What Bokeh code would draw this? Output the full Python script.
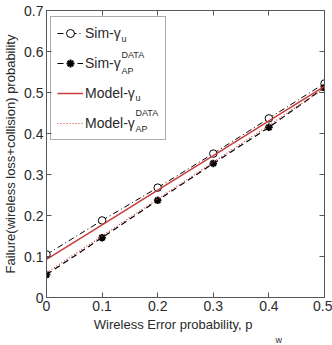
from bokeh.plotting import figure
from bokeh.models import Legend, LegendItem, Label, LinearAxis, FixedTicker, Range1d, Title
from bokeh.embed import file_html
from bokeh.resources import INLINE

pw = [0.0, 0.1, 0.2, 0.3, 0.4, 0.5]
sim_u = [0.105, 0.188, 0.268, 0.351, 0.437, 0.522]
sim_ap = [0.056, 0.146, 0.237, 0.327, 0.415, 0.512]
model_u = [0.093, 0.177, 0.262, 0.346, 0.431, 0.515]
model_ap = [0.060, 0.150, 0.240, 0.330, 0.420, 0.510]
xticks = [0, 0.1, 0.2, 0.3, 0.4, 0.5]
yticks = [0, 0.1, 0.2, 0.3, 0.4, 0.5, 0.6, 0.7]

FONT = "Liberation Sans"
TXT = "#2a2a2a"
RED = "#cc3b3b"
FRAME = "#555555"

p = figure(width=332, height=345, output_backend="svg", toolbar_location=None,
           x_range=Range1d(0, 0.5), y_range=Range1d(0, 0.7),
           min_border_left=43, min_border_right=8, min_border_top=10, min_border_bottom=48)
p.grid.visible = False
p.outline_line_color = FRAME
p.background_fill_color = "white"

for ax in (p.xaxis[0], p.yaxis[0]):
    ax.major_tick_in = 5
    ax.major_tick_out = 0
    ax.minor_tick_in = 0
    ax.minor_tick_out = 0
    ax.major_label_text_font = FONT
    ax.major_label_text_font_size = "14px"
    ax.major_label_text_color = TXT
    ax.axis_label_text_font = FONT
    ax.axis_label_text_font_size = "13px"
    ax.axis_label_text_font_style = "normal"
    ax.axis_label_text_color = TXT
    ax.axis_line_color = FRAME
    ax.major_tick_line_color = FRAME
    ax.major_label_standoff = 3

p.xaxis.ticker = FixedTicker(ticks=xticks)
p.yaxis.ticker = FixedTicker(ticks=yticks)
p.xaxis.major_label_overrides = {0: "0"}
p.yaxis.major_label_overrides = {0: "0"}
p.yaxis.axis_label = "Failure(wireless loss+collision) probability"
p.yaxis.axis_label_standoff = 3

for side, tk in (("right", yticks), ("above", xticks)):
    a = LinearAxis(ticker=FixedTicker(ticks=tk),
                   major_label_overrides={t: "" for t in tk},
                   major_tick_in=5, major_tick_out=0, minor_tick_in=0, minor_tick_out=0,
                   major_label_standoff=0, axis_line_color=FRAME,
                   major_tick_line_color=FRAME)
    p.add_layout(a, side)

# x-axis label and its subscript
p.add_layout(Title(text="Wireless Error probability, p", align="right", offset=72, standoff=2,
                   text_font=FONT, text_font_size="13px", text_font_style="normal",
                   text_color=TXT), "below")
p.add_layout(Title(text="w", align="left", offset=229, standoff=0,
                   text_font=FONT, text_font_size="9px", text_font_style="normal",
                   text_line_height=0.6, text_color=TXT), "below")

r1l = p.line(pw, sim_u, line_color="black", line_dash="6 3 1 3", line_width=1)
r1m = p.scatter(pw, sim_u, marker="circle", size=7.5, fill_color="white", line_color="black", line_width=1)
r2l = p.line(pw, sim_ap, line_color="black", line_dash="6 4", line_width=1.2)
r2m = p.scatter(pw, sim_ap, marker="asterisk", size=7.5, line_color="black", line_width=2)
r3 = p.line(pw, model_u, line_color=RED, line_width=1.5)
r4 = p.line(pw, model_ap, line_color=RED, line_dash="1 2", line_width=1.2)

legend = Legend(items=[
    LegendItem(label="Sim-\u03b3", renderers=[r1l, r1m]),
    LegendItem(label="Sim-\u03b3", renderers=[r2l, r2m]),
    LegendItem(label="Model-\u03b3", renderers=[r3]),
    LegendItem(label="Model-\u03b3", renderers=[r4]),
], location=(4, 157))
legend.padding = 6
legend.spacing = 10
legend.glyph_height = 20
legend.label_height = 20
legend.glyph_width = 26
legend.label_width = 74
legend.label_standoff = 2
legend.label_text_font = FONT
legend.label_text_font_size = "14px"
legend.label_text_color = TXT
legend.border_line_color = FRAME
legend.background_fill_alpha = 0
p.add_layout(legend)

def lab(x, y, t, size="9px"):
    p.add_layout(Label(x=x, y=y, x_units="screen", y_units="screen", text=t,
                       text_font=FONT, text_font_size=size, text_color=TXT,
                       text_align="left", text_baseline="middle"))

# legend sub/superscripts (frame-relative screen units)
lab(75, 259, "u")
lab(75, 243, "DATA")
lab(75, 227, "AP")
lab(89, 200, "u")
lab(89, 185, "DATA")
lab(89, 169, "AP")

open("out.html", "w").write(file_html(p, INLINE))
